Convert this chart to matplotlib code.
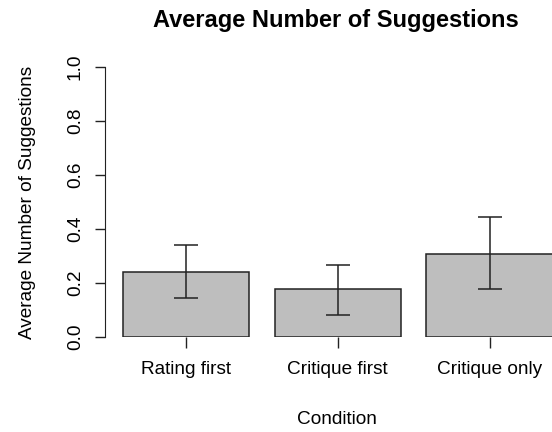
import matplotlib.pyplot as plt

plt.rcParams['font.family'] = ['Liberation Sans', 'DejaVu Sans']

conditions = ['Rating first', 'Critique first', 'Critique only']
means = [0.241, 0.178, 0.307]
lower = [0.146, 0.083, 0.178]
upper = [0.340, 0.268, 0.444]

W, H = 552, 432
fig = plt.figure(figsize=(W / 100, H / 100), dpi=100)

# axes placed in pixel units (R-style barplot layout)
left, right = 105, 552
bottom, top = 337, 56.2
ax = fig.add_axes([left / W, 1 - bottom / H, (right - left) / W, (bottom - top) / H])

# bars of width 1 with 0.2 space between, like barplot()
centers = [0.7 + 1.2 * i for i in range(len(means))]
ax.bar(centers, means, width=1.0, color='#bebebe', edgecolor='#222222',
       linewidth=1.1, zorder=2)
yerr = [[m - lo for m, lo in zip(means, lower)], [up - m for m, up in zip(means, upper)]]
ax.errorbar(centers, means, yerr=yerr, fmt='none', ecolor='#222222',
            elinewidth=1.1, capsize=8.4, capthick=1.1, zorder=3)

ax.set_xlim((left - 97.4) / 126.5, (right - 97.4) / 126.5)
ax.set_ylim(0, 1.04)

for side in ['top', 'right', 'bottom']:
    ax.spines[side].set_visible(False)
ax.spines['left'].set_bounds(0, 1)
ax.spines['left'].set_color('#222222')

ax.set_yticks([0.0, 0.2, 0.4, 0.6, 0.8, 1.0])
ax.set_yticklabels(['0.0', '0.2', '0.4', '0.6', '0.8', '1.0'],
                   rotation=90, va='center')
ax.set_xticks(centers)
ax.set_xticklabels(conditions)
ax.tick_params(axis='y', length=7.2, width=1.0, pad=8, labelsize=13.7,
               color='#222222')
ax.tick_params(axis='x', length=8, width=1.0, pad=9, labelsize=13.7,
               color='#222222')

fig.text(336 / W, 1 - 20 / H, 'Average Number of Suggestions', ha='center',
         va='center', fontsize=17, fontweight='bold')
fig.text(337 / W, 1 - 419 / H, 'Condition', ha='center', va='center',
         fontsize=13.7)
fig.text(28 / W, 1 - 202 / H, 'Average Number of Suggestions', ha='center',
         va='center', rotation=90, fontsize=13.7)

fig.savefig('out.png', dpi=100)
